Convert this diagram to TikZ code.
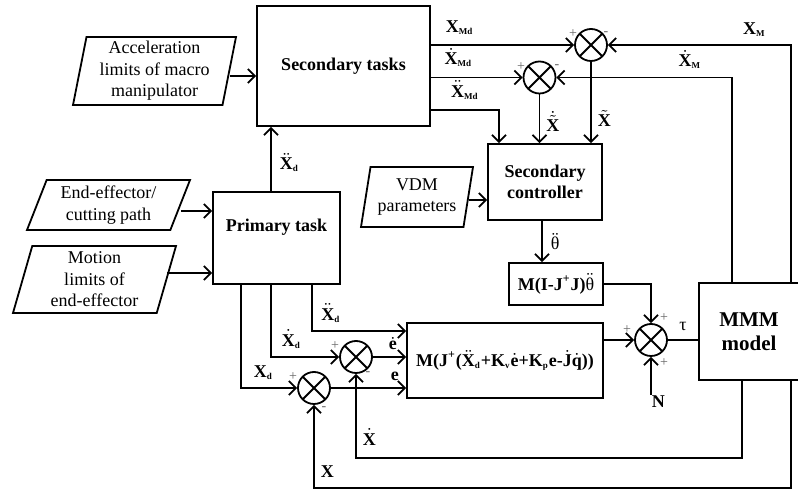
\documentclass[tikz,border=0pt]{standalone}
\usepackage{fontspec}
\setmainfont{Liberation Serif}
\usetikzlibrary{arrows.meta,positioning,shapes.geometric}
\newcommand{\bX}{\mbox{\textbf{X}}}
\newcommand{\sub}[1]{\mbox{\fontsize{4.5}{5}\selectfont\bfseries #1}}

\begin{document}
\begin{tikzpicture}[x=0.5pt,y=-0.5pt,line width=0.9pt,every node/.style={font=\fontsize{9}{10.8}\selectfont,align=center},box/.style={draw,line width=0.9pt,inner sep=1pt},inp/.style={draw,line width=0.9pt,trapezium,trapezium stretches body,inner sep=1pt},sumj/.style={draw,circle,line width=0.9pt,minimum size=16pt,inner sep=0pt,path picture={\draw (path picture bounding box.north west)--(path picture bounding box.south east) (path picture bounding box.north east)--(path picture bounding box.south west);}},sgn/.style={font=\fontsize{7}{7}\selectfont,text=black!60,inner sep=0pt},lbl/.style={inner sep=0pt},arrow/.style={-{Straight Barb[length=3.5pt,width=7pt]}}]
\useasboundingbox (0,0) rectangle (798,490);
% inputs
\node[inp,minimum width=81.5pt,minimum height=34pt,trapezium left angle=78,trapezium right angle=102] (acc) at (154.5,71) {Acceleration\\limits of macro\\manipulator};
\node[inp,minimum width=81.5pt,minimum height=25pt,trapezium left angle=65,trapezium right angle=115] (ee) at (108.5,205) {End-effector/\\cutting path};
\node[inp,minimum width=81.5pt,minimum height=33.5pt,trapezium left angle=72,trapezium right angle=108] (mot) at (94.5,279.5) {Motion\\limits of\\end-effector};
\node[inp,minimum width=56pt,minimum height=30pt,trapezium left angle=77,trapezium right angle=103] (vdm) at (417,197) {VDM\\parameters};
% blocks
\node[box,minimum width=86.5pt,minimum height=60pt,font=\fontsize{9}{10.8}\selectfont\bfseries] (sec) at (343.5,66) {Secondary tasks};
\node[box,minimum width=63.5pt,minimum height=46pt,text depth=13pt,font=\fontsize{9}{10.8}\selectfont\bfseries] (prim) at (276.5,238) {Primary task};
\node[box,minimum width=57pt,minimum height=38pt,font=\fontsize{9}{10.8}\selectfont\bfseries] (ctrl) at (545,182) {Secondary\\controller};
\node[box,minimum width=47pt,minimum height=21pt] (null) at (556,284) {\textbf{M(I-J\textsuperscript{+}J)}$\ddot{\mbox{θ}}$};
\node[box,minimum width=98pt,minimum height=37.5pt] (ctl) at (505,360.5) {\textbf{M(J\textsuperscript{+}(}$\ddot{\bX}_{\sub{d}}$\textbf{+K}$_{\sub{v}}\dot{\mbox{\textbf{e}}}$\textbf{+K}$_{\sub{p}}$\textbf{e-}$\dot{\mbox{\textbf{J}}}\dot{\mbox{\textbf{q}}}$\textbf{))}};
\node[box,minimum width=50pt,minimum height=48.5pt,font=\fontsize{10.5}{12}\selectfont\bfseries] (mmm) at (749,331.5) {MMM\\model};
% summing junctions
\node[sumj] (s1) at (591,45) {};
\node[sumj] (s2) at (539.5,77.5) {};
\node[sumj] (s3) at (651,340) {};
\node[sumj] (sB) at (356,357) {};
\node[sumj] (sA) at (314,388) {};
\coordinate (nin) at (651,395);
% signs
\node[sgn] (p1) at (573,34) {+};
\node[sgn] (m1) at (606,34) {-};
\node[sgn] (p2) at (521,67) {+};
\node[sgn] (m2) at (557,67) {-};
\node[sgn] (p3a) at (627,330) {+};
\node[sgn] (p3b) at (664,318) {+};
\node[sgn] (p3c) at (664,363) {+};
\node[sgn] (pB) at (335,346) {+};
\node[sgn] (mB) at (368,374) {-};
\node[sgn] (pA) at (293,377) {+};
\node[sgn] (mA) at (324,409) {-};
% inputs to tasks
\draw[arrow] (acc.east|-0,76)--(sec.west|-0,76);
\draw[arrow] (ee.east|-0,211)--(prim.west|-0,211);
\draw[arrow] (mot.east|-0,273)--(prim.west|-0,273);
\draw[arrow] (vdm.east|-0,200)--(ctrl.west|-0,200);
\draw[arrow] (271,0|-prim.north)--(271,0|-sec.south) node[lbl,pos=0.45,right=4pt] (xdd) {$\ddot{\bX}_{\sub{d}}$};
% secondary tasks outputs
\draw[arrow] (sec.east|-s1)--(s1.west) node[lbl,pos=0.2,above=5pt] (xmd) {$\bX_{\sub{Md}}$};
\draw[arrow] (sec.east|-s2)--(s2.west) node[lbl,pos=0.3,above=5pt] (xdmd) {$\dot{\bX}_{\sub{Md}}$};
\draw[arrow] (sec.east|-0,110)-|(499,0|-ctrl.north) node[lbl,pos=0.25,above=5pt] (xddmd) {$\ddot{\bX}_{\sub{Md}}$};
\draw[arrow] (s2.south)--(s2|-ctrl.north) node[lbl,pos=0.55,right=3pt] (xtd) {$\dot{\tilde{\bX}}$};
\draw[arrow] (s1.south)--(s1|-ctrl.north) node[lbl,pos=0.7,right=3pt] (xt) {$\tilde{\bX}$};
% feedback from MMM model
\draw[arrow] (791,0|-mmm.north)|-(s1.east) node[lbl,pos=0.6,above=4pt] (xm) {$\bX_{\sub{M}}$};
\draw[arrow] (732,0|-mmm.north)|-(s2.east) node[lbl,pos=0.62,above=4pt] (xdm) {$\dot{\bX}_{\sub{M}}$};
\draw[arrow] (742,0|-mmm.south)|-(356,458)--(sB.south) node[lbl,pos=0.25,right=3pt] (xdot) {$\dot{\bX}$};
\draw[arrow] (791,0|-mmm.south)|-(314,488)--(sA.south) node[lbl,pos=0.2,right=3pt] (xpos) {$\bX$};
% secondary control path
\draw[arrow] (542,0|-ctrl.south)--(542,0|-null.north) node[lbl,midway,right=4pt] (thdd) {$\ddot{\mbox{θ}}$};
\draw[arrow] (null.east)-|(s3.north);
\draw[arrow] (s3.west-|ctl.east)--(s3.west);
\draw[arrow] (nin)--(s3.south) node[lbl,pos=0,below right=0pt and 0pt] (nlbl) {\textbf{N}};
\draw (s3.east)--(s3-|mmm.west) node[lbl,midway,above=4pt] (tau) {τ};
% primary task outputs
\draw[arrow] (312,0|-prim.south)|-(ctl.west|-0,331) node[lbl,pos=0.6,above=4pt] (xddd) {$\ddot{\bX}_{\sub{d}}$};
\draw[arrow] (271,0|-prim.south)|-(sB.west) node[lbl,pos=0.65,above=4pt] (xdd2) {$\dot{\bX}_{\sub{d}}$};
\draw[arrow] (241,0|-prim.south)|-(sA.west) node[lbl,pos=0.7,above=4pt] (xd) {$\bX_{\sub{d}}$};
\draw[arrow] (sB.east)--(sB-|ctl.west) node[lbl,pos=0.6,above=3pt] (edot) {$\dot{\mbox{\textbf{e}}}$};
\draw[arrow] (sA.east)--(sA-|ctl.west) node[lbl,pos=0.85,above=3pt] (err) {\textbf{e}};
\end{tikzpicture}
\end{document}
